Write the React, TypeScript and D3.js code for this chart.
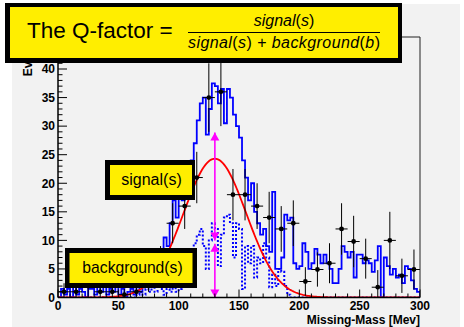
import React from "react";
import * as d3 from "d3";

// ---------- data ----------
const binWidth = 2.5;
// total (signal + background) histogram, bins of 2.5 MeV from 0 to 300
const totalCounts = [
  0, 1.5, 0.5, 1.5, 0, 2, 0.5, 1.5, 1, 0,
  1.5, 1.5, 0.5, 2, 1, 2, 0.5, 1.5, 1, 2,
  0.5, 1.5, 0, 1, 1.5, 0.5, 2, 1, 2, 3,
  2, 4, 3, 6, 8, 10.5, 9, 13, 17, 14,
  19, 17, 22, 20, 24, 27, 31, 34, 35, 28.5,
  33, 37.5, 37, 34, 36.5, 30.5, 36.5, 35, 32, 30,
  28, 24, 21, 17, 20, 15, 13, 11, 12, 9,
  8, 18.5, 5, 5, 7, 14.5, 13.5, 14, 6, 5,
  5.5, 9.5, 8, 5, 6, 8.5, 7.5, 6, 7.5, 6,
  5, 2.5, 2.5, 5, 9, 8, 7, 8, 3.5, 7.5,
  7.5, 6, 6.5, 6, 4.5, 6.5, 9, 0, 7, 5.5,
  4, 5, 3.5, 4, 2.5, 5.5, 5, 3, 1.5, 1,
];
// background histogram (dotted), same binning
const bkgCounts = [
  0, 0, 0, 0, 0, 0, 0, 0, 0, 0,
  0, 0, 0, 0, 0, 0, 0, 0, 0, 0,
  0, 0, 0, 0, 0, 0, 0.5, 1, 0.5, 1.5,
  1, 2, 1, 2, 1.5, 0.5, 1.5, 1, 2, 1,
  1.5, 2, 5, 6.5, 8, 9.5, 11, 12, 9, 5,
  10, 13, 12, 5.5, 11, 14, 14.5, 13, 7, 13,
  12, 1.5, 9, 6, 9, 3.5, 7, 6, 9.5, 7,
  1.8, 4, 2, 5, 4.5, 2, 0.5, 0, 0, 0,
  0, 0, 0, 0, 0, 0, 0, 0, 0, 0,
  0, 0, 0, 0, 0, 0, 0, 0, 0, 0,
  0, 0, 0, 0, 0, 0, 0, 0, 0, 0,
  0, 0, 0, 0, 0, 0, 0, 0, 0, 0,
];
// data points with error bars
const pointX = [5, 15, 25, 35, 45, 55, 65, 75, 85, 95, 105, 115, 125, 135, 145, 155, 165, 175, 185, 195, 205, 215, 225, 235, 245, 255, 265, 275, 285, 295];
const pointY = [1, 1, 2, 1, 1, 0.5, 1, 3, 6, 13, 16, 21, 35, 36, 18, 18, 16, 14, 12, 13, 2.8, 4.9, 6, 12, 9.8, 6.8, 1.8, 10, 3.8, 4.9];
const pointErr = [1.5, 1.5, 2, 1.5, 1.5, 1, 1.5, 2, 3, 3.5, 4, 4.5, 6, 6, 4.5, 4.5, 4, 4.5, 4, 4, 2.5, 3, 3.5, 4.5, 4.5, 3.5, 3, 5, 3, 3.5];
const pointXErr = 5;
// gaussian signal fit parameters
const fitAmp = 24.3;
const fitMean = 130;
const fitSigma = 26;
// arrows at x = 130: background span and signal span
const arrowX = 130;
const arrowSpans: [number, number][] = [
  [0, 9.4],
  [10.0, 28.9],
];
const xTicks = [0, 50, 100, 150, 200, 250, 300];
const yTicks = [0, 5, 10, 15, 20, 25, 30, 35, 40];

// ---------- layout ----------
const W = 464;
const H = 327;
const left = 58;
const right = 420;
const bottom = 297.5;
const top = 37;

const font = "'Liberation Sans', Arial, Helvetica, sans-serif";

export default function App() {
  const x = d3.scaleLinear().domain([0, 300]).range([left, right]);
  const y = d3.scaleLinear().domain([0, 40]).range([bottom, 69]);
  const yTop = y.invert(top);

  const histPath = (counts: number[]) => {
    const pts: [number, number][] = [[0, 0]];
    counts.forEach((c, i) => pts.push([i * binWidth, c]));
    pts.push([counts.length * binWidth, counts[counts.length - 1]]);
    pts.push([counts.length * binWidth, 0]);
    return d3
      .line<[number, number]>()
      .x((d) => x(d[0]))
      .y((d) => y(d[1]))
      .curve(d3.curveStepAfter)(pts) as string;
  };

  const gauss = d3.range(0, 300.5, 1).map((v) => [v, fitAmp * Math.exp(-((v - fitMean) ** 2) / (2 * fitSigma * fitSigma))] as [number, number]);
  const gaussPath = d3
    .line<[number, number]>()
    .x((d) => x(d[0]))
    .y((d) => y(d[1]))(gauss) as string;

  const minorX = d3.range(0, 301, 10);
  const minorY = d3.range(0, Math.floor(yTop) + 1, 1);

  const ax = x(arrowX);
  // pointUp: tip at tipY, base below it
  const head = (tipY: number, pointUp: boolean, key: string) => {
    const base = pointUp ? tipY + 8 : tipY - 8;
    return <path key={key} d={`M${ax},${tipY} L${ax - 4.5},${base} L${ax + 4.5},${base} Z`} fill="#ff00ff" />;
  };

  return (
    <svg width={W} height={H} style={{ position: "absolute", left: 0, top: 0 }} fontFamily={font}>
      <rect x={0} y={0} width={W} height={H} fill="#ffffff" />
      <rect x={12} y={4} width={448} height={H - 4} fill="#f2f2f2" />
      <defs>
        <clipPath id="frame">
          <rect x={left} y={top} width={right - left} height={bottom - top} />
        </clipPath>
      </defs>

      <g clipPath="url(#frame)">
        <path d={histPath(bkgCounts)} fill="none" stroke="#0000ff" strokeWidth={2} strokeDasharray="2 2" />
        <path d={histPath(totalCounts)} fill="none" stroke="#0000ff" strokeWidth={1.8} />
        <path d={gaussPath} fill="none" stroke="#ff0000" strokeWidth={1.8} />
      </g>

      {/* data points */}
      <g stroke="#000" strokeWidth={1}>
        {pointX.map((px, i) => (
          <g key={i}>
            <line x1={x(px - pointXErr)} x2={x(px + pointXErr)} y1={y(pointY[i])} y2={y(pointY[i])} />
            <line x1={x(px)} x2={x(px)} y1={y(Math.max(0, pointY[i] - pointErr[i]))} y2={y(pointY[i] + pointErr[i])} />
            <circle cx={x(px)} cy={y(pointY[i])} r={2.4} fill="#000" stroke="none" />
          </g>
        ))}
      </g>

      {/* arrows */}
      <g>
        {arrowSpans.map(([a, b], i) => (
          <g key={i}>
            <line x1={ax} x2={ax} y1={y(a)} y2={y(b)} stroke="#ff00ff" strokeWidth={1.6} />
            {head(y(a), false, "a" + i)}
            {head(y(b), true, "b" + i)}
          </g>
        ))}
      </g>

      {/* frame */}
      <line x1={left} x2={right} y1={top} y2={top} stroke="#222" strokeWidth={1} />
      <line x1={right} x2={right} y1={top} y2={bottom} stroke="#222" strokeWidth={1} />
      <line x1={left} x2={right} y1={bottom} y2={bottom} stroke="#000" strokeWidth={1.5} />
      <line x1={left} x2={left} y1={top} y2={bottom} stroke="#000" strokeWidth={1.5} />

      {/* x ticks */}
      {minorX.map((v) => (
        <line key={"mx" + v} x1={x(v)} x2={x(v)} y1={bottom} y2={bottom - (v % 50 === 0 ? 8 : 4)} stroke="#000" strokeWidth={1} />
      ))}
      {xTicks.map((v) => (
        <text key={"tx" + v} x={x(v)} y={309.5} textAnchor="middle" fontSize={12} fontWeight="bold" fill="#000">
          {v}
        </text>
      ))}
      {/* y ticks */}
      {minorY.map((v) => (
        <line key={"my" + v} x1={left} x2={left + (v % 5 === 0 ? 9 : 4.5)} y1={y(v)} y2={y(v)} stroke="#000" strokeWidth={1} />
      ))}
      {yTicks.map((v) => (
        <text key={"ty" + v} x={55} y={y(v) + 4.3} textAnchor="end" fontSize={12} fontWeight="bold" fill="#000">
          {v}
        </text>
      ))}
      <text x={right} y={323.5} textAnchor="end" fontSize={12} fontWeight="bold" fill="#000">
        Missing-Mass [Mev]
      </text>
      <text transform={`translate(32,${top}) rotate(-90)`} textAnchor="end" fontSize={12} fontWeight="bold" fill="#000">
        Events
      </text>

      {/* signal label */}
      <rect x={105} y={160} width={90} height={40} fill="#000" />
      <rect x={110} y={165} width={82} height={30} fill="#ffee00" />
      <text x={151.5} y={184.5} textAnchor="middle" fontSize={16} fill="#000">
        signal(s)
      </text>

      {/* background label */}
      <rect x={65} y={248} width={132} height={40} fill="#000" />
      <rect x={69.5} y={253} width={123} height={30} fill="#ffee00" />
      <text x={132.5} y={272.5} textAnchor="middle" fontSize={15.7} fill="#000">
        background(s)
      </text>

      {/* title box */}
      <rect x={5} y={3} width={397} height={60} fill="#000" />
      <rect x={10} y={7} width={388} height={51} fill="#ffee00" />
      <text x={27} y={37.5} fontSize={22.5} fill="#000">
        The Q-factor =
      </text>
      <text x={284} y={26} textAnchor="middle" fontSize={16} fill="#000">
        <tspan fontStyle="italic">signal</tspan>(<tspan fontStyle="italic">s</tspan>)
      </text>
      <line x1={188} x2={380} y1={32.5} y2={32.5} stroke="#000" strokeWidth={1.2} />
      <text x={188} y={48} fontSize={16} fill="#000" textLength={192} lengthAdjust="spacing">
        <tspan fontStyle="italic">signal</tspan>(<tspan fontStyle="italic">s</tspan>) + <tspan fontStyle="italic">background</tspan>(<tspan fontStyle="italic">b</tspan>)
      </text>
    </svg>
  );
}
